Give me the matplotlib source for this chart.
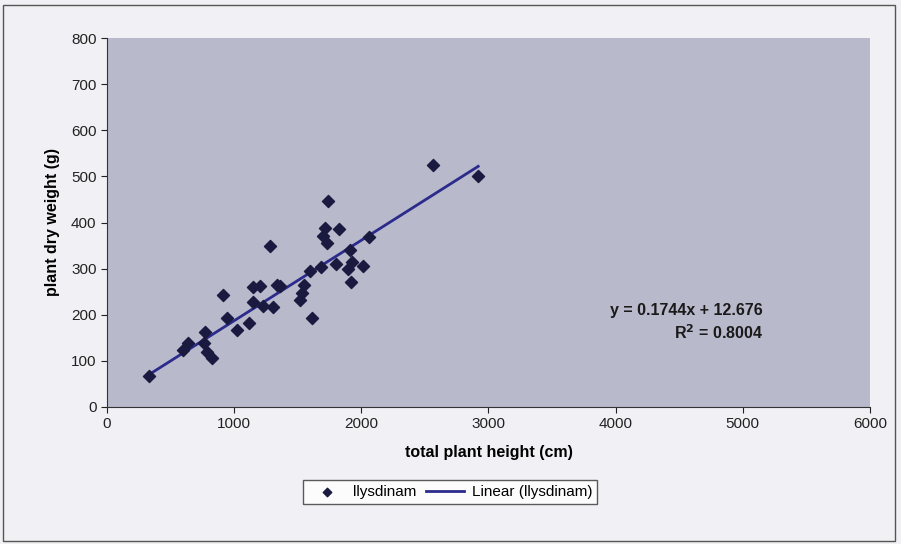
import numpy as np
import matplotlib
matplotlib.use("Agg")
import matplotlib.pyplot as plt

plt.rcParams['font.family'] = ['Liberation Sans', 'DejaVu Sans']

# altura total (cm) y peso seco (g)
altura = [333, 595, 639, 770, 763, 784, 825, 915, 941, 1025, 1119, 1145, 1145,
          1203, 1229, 1308, 1334, 1284, 1360, 1549, 1530, 1517, 1609, 1596,
          1682, 1740, 1714, 1701, 1727, 1824, 1800, 1910, 1924, 1897, 1918,
          2015, 2062, 2566, 2919]
peso = [67, 124, 139, 163, 139, 120, 106, 242, 192, 166, 183, 228, 260,
        262, 220, 216, 265, 350, 262, 265, 248, 231, 192, 294,
        304, 447, 387, 371, 356, 386, 310, 341, 315, 299, 272,
        306, 369, 525, 501]

pendiente = 0.1744
intercepto = 12.676
r2 = 0.8004

fig = plt.figure(figsize=(9.01, 5.44), dpi=100, facecolor='#f1f1f5')
ax = fig.add_axes([107/901, 1-407/544, (870-107)/901, (407-38)/544])
ax.set_facecolor('#b9b9cc')

ax.scatter(altura, peso, marker='D', s=38, color='#1a1a40', zorder=3, label='llysdinam')
xl = np.array([min(altura), max(altura)])
ax.plot(xl, pendiente*xl + intercepto, color='#2b2b8c', lw=2, zorder=2, label='Linear (llysdinam)')

ax.set_xlim(0, 6000)
ax.set_ylim(0, 800)
ax.set_xticks(range(0, 6001, 1000))
ax.set_yticks(range(0, 801, 100))
ax.tick_params(direction='out', length=4, labelsize=11, colors='#222222')
for s in ['top', 'right']:
    ax.spines[s].set_visible(False)
for s in ['left', 'bottom']:
    ax.spines[s].set_color('#333333')

ax.set_xlabel('total plant height (cm)', fontsize=11.5, fontweight='bold', labelpad=10)
ax.set_ylabel('plant dry weight (g)', fontsize=11.5, fontweight='bold', labelpad=8)

# posiciones en píxeles (origen abajo a la izquierda)
fig.text(686/901, 1-311/544, f'y = {pendiente}x + {intercepto}',
         ha='center', va='center', fontsize=11.5, fontweight='bold', color='#1a1a1a')
fig.text(719/901, 1-333/544, f'R$^\\mathbf{{2}}$ = {r2}',
         ha='center', va='center', fontsize=11.5, fontweight='bold', color='#1a1a1a')

leg = fig.legend(loc='center', bbox_to_anchor=(450/901, 1-492/544), ncol=2,
                 frameon=True, fancybox=False, fontsize=11, handlelength=2.5,
                 columnspacing=0.6, handletextpad=0.5, borderpad=0.3, markerscale=0.7)
leg.get_frame().set_edgecolor('#333333')
leg.get_frame().set_facecolor('white')

fig.add_artist(plt.Rectangle((3/901, 0.005), 0.99, 1-8/544, transform=fig.transFigure,
                             fill=False, edgecolor='#555555', lw=1))

fig.savefig('out.png', dpi=100, facecolor=fig.get_facecolor())
